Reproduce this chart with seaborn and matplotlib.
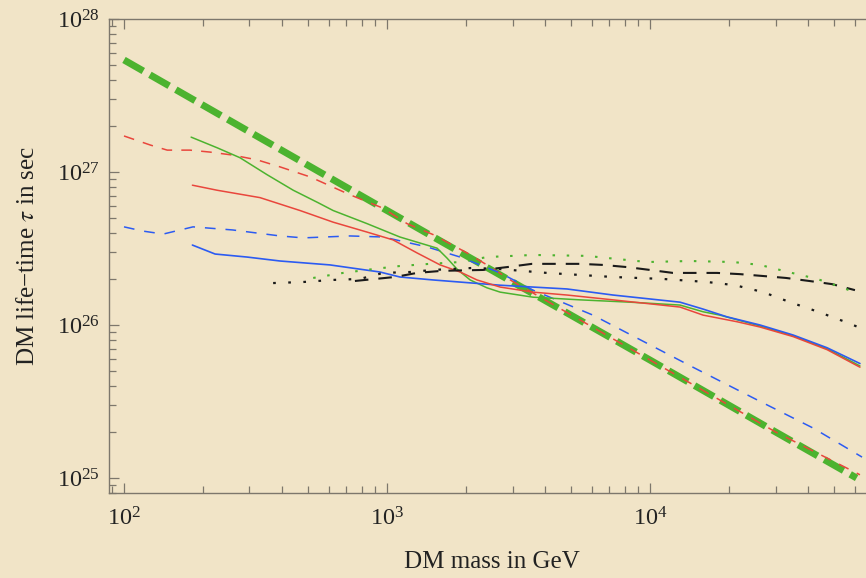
import matplotlib
matplotlib.use("Agg")
import matplotlib.pyplot as plt
import seaborn as sns
import pandas as pd
from matplotlib.ticker import LogLocator, NullFormatter, LogFormatterMathtext

# ---------------- data (mass in GeV, lifetime in s) ----------------
green_thick_m = [100, 300, 1000, 3000, 10000, 30000, 61000]
green_thick_t = [5.4e27, 1.83e27, 5.6e26, 1.91e26, 5.9e25, 2.0e25, 1.0e25]

red_dash_m = [100, 126, 146, 178, 212, 259, 321, 392, 509, 723, 966, 1191,
              1496, 2014, 2466, 3000, 10000, 30000, 62800]
red_dash_t = [1.72e27, 1.50e27, 1.39e27, 1.39e27, 1.35e27, 1.29e27, 1.20e27,
              1.08e27, 9.3e26, 7.1e26, 5.8e26, 4.6e26, 3.9e26, 2.96e26,
              2.4e26, 1.93e26, 5.9e25, 2.0e25, 1.05e25]

blue_dash_m = [100, 118, 141, 183, 259, 392, 480, 723, 966, 1419, 1897, 2692,
               3589, 6067, 14550, 25530, 41690, 63970]
blue_dash_t = [4.38e26, 4.11e26, 3.93e26, 4.38e26, 4.18e26, 3.82e26, 3.71e26,
               3.82e26, 3.76e26, 3.24e26, 2.78e26, 2.19e26, 1.69e26, 1.16e26,
               5.3e25, 3.24e25, 2.12e25, 1.37e25]

red_solid_m = [182, 226, 329, 467, 624, 839, 1054, 1300, 1592, 1897, 2198,
               2692, 3589, 4831, 7228, 13000, 15920, 21430, 26180, 34990,
               47100, 62800]
red_solid_t = [8.2e26, 7.6e26, 6.8e26, 5.6e26, 4.7e26, 4.05e26, 3.6e26,
               2.96e26, 2.47e26, 2.22e26, 1.97e26, 1.77e26, 1.64e26, 1.57e26,
               1.46e26, 1.31e26, 1.16e26, 1.05e26, 9.7e25, 8.4e25, 6.9e25,
               5.3e25]

blue_solid_m = [182, 222, 294, 392, 607, 940, 1119, 1496, 2692, 4831, 7228,
                13000, 15920, 19630, 26180, 34990, 47100, 62800]
blue_solid_t = [3.33e26, 2.91e26, 2.78e26, 2.62e26, 2.47e26, 2.22e26, 2.06e26,
                1.97e26, 1.82e26, 1.72e26, 1.57e26, 1.41e26, 1.27e26, 1.13e26,
                1.0e26, 8.6e25, 7.1e25, 5.6e25]

green_solid_m = [180, 226, 276, 350, 440, 547, 624, 839, 1119, 1549, 1690,
                 1845, 2070, 2399, 2692, 3589, 5420, 8395, 13000, 15920, 18450,
                 26180, 34990, 47100, 62800]
green_solid_t = [1.69e27, 1.44e27, 1.24e27, 9.6e26, 7.6e26, 6.3e26, 5.6e26,
                 4.6e26, 3.76e26, 3.18e26, 2.74e26, 2.32e26, 1.97e26, 1.75e26,
                 1.64e26, 1.52e26, 1.46e26, 1.41e26, 1.35e26, 1.22e26, 1.16e26,
                 9.85e25, 8.5e25, 7.0e25, 5.4e25]

black_dot_m = [369, 480, 618, 789, 966, 1222, 1496, 2123, 2692, 4055, 7228,
               11190, 16480, 21040, 26920, 34040, 43550, 55080, 61800]
black_dot_t = [1.88e26, 1.91e26, 1.97e26, 2.0e26, 2.19e26, 2.22e26, 2.29e26,
               2.36e26, 2.32e26, 2.19e26, 2.06e26, 2.0e26, 1.91e26, 1.82e26,
               1.64e26, 1.41e26, 1.22e26, 1.05e26, 9.7e25]

black_dash_m = [755, 1072, 1300, 1618, 2317, 2858, 3556, 4426, 5420, 6622,
                8185, 10000, 12220, 17990, 21980, 26920, 32890, 40270, 49200,
                60120]
black_dash_t = [1.94e26, 2.06e26, 2.19e26, 2.26e26, 2.29e26, 2.39e26, 2.51e26,
                2.51e26, 2.51e26, 2.47e26, 2.39e26, 2.29e26, 2.19e26, 2.19e26,
                2.15e26, 2.09e26, 2.03e26, 1.94e26, 1.85e26, 1.69e26]

green_dot_m = [524, 681, 885, 1119, 1455, 1897, 2399, 3589, 5754, 7499, 9750,
               14190, 20700, 26180, 33500, 43150, 54200, 61800]
green_dot_t = [2.03e26, 2.19e26, 2.32e26, 2.43e26, 2.51e26, 2.58e26, 2.78e26,
               2.87e26, 2.83e26, 2.70e26, 2.58e26, 2.62e26, 2.58e26, 2.47e26,
               2.22e26, 2.0e26, 1.75e26, 1.60e26]

x_label = "DM mass in GeV"
y_label = "DM life\u2212time $\\tau$ in sec"

# ---------------- style ----------------
sns.set_theme(style="ticks")
plt.rcParams["font.family"] = ["Liberation Serif", "DejaVu Serif"]
plt.rcParams["mathtext.fontset"] = "stix"

BG = "#F1E4C7"
AX = "#7d776c"
GREEN = "#4CB32F"
RED = "#E9463C"
BLUE = "#2C5BF2"

fig = plt.figure(figsize=(8.66, 5.78), dpi=100, facecolor=BG)
ax = fig.add_axes([109 / 866, 85 / 578, 757 / 866, 474 / 578])
ax.set_facecolor(BG)

series = [
    (green_thick_m, green_thick_t, GREEN, 5.0, (0, (3.2, 1.1))),
    (red_dash_m, red_dash_t, RED, 1.1, (0, (7, 6))),
    (blue_dash_m, blue_dash_t, BLUE, 1.1, (0, (7, 6.5))),
    (green_solid_m, green_solid_t, GREEN, 1.1, "-"),
    (blue_solid_m, blue_solid_t, BLUE, 1.2, "-"),
    (red_solid_m, red_solid_t, RED, 1.1, "-"),
    (black_dash_m, black_dash_t, "#1a1a1a", 1.5, (0, (6.5, 4.8))),
    (black_dot_m, black_dot_t, "#1a1a1a", 1.6, (0, (1.2, 5.6))),
    (green_dot_m, green_dot_t, GREEN, 1.5, (0, (1.2, 5.6))),
]

for m, t, c, lw, ls in series:
    df = pd.DataFrame({"m": m, "t": t})
    sns.lineplot(data=df, x="m", y="t", ax=ax, color=c, lw=lw,
                 linestyle=ls, sort=False, estimator=None)

ax.set_xscale("log")
ax.set_yscale("log")
ax.set_xlim(10 ** 1.943, 10 ** 4.821)
ax.set_ylim(10 ** 24.902, 1e28)

ax.xaxis.set_major_locator(LogLocator(base=10, numticks=10))
ax.xaxis.set_minor_locator(LogLocator(base=10, subs=range(2, 10), numticks=20))
ax.yaxis.set_major_locator(LogLocator(base=10, numticks=10))
ax.yaxis.set_minor_locator(LogLocator(base=10, subs=range(2, 10), numticks=20))
ax.xaxis.set_major_formatter(LogFormatterMathtext())
ax.yaxis.set_major_formatter(LogFormatterMathtext())
ax.xaxis.set_minor_formatter(NullFormatter())
ax.yaxis.set_minor_formatter(NullFormatter())

ax.tick_params(which="both", direction="in", color=AX, top=True, right=False,
               labelcolor="#222222", labelsize=17.5)
ax.tick_params(which="major", length=7, width=0.9)
ax.tick_params(which="minor", length=5, width=0.9)
ax.tick_params(axis="y", pad=6.5)
ax.tick_params(axis="x", pad=10)

for s in ["left", "bottom", "top"]:
    ax.spines[s].set_color(AX)
    ax.spines[s].set_linewidth(1.0)
ax.spines["right"].set_visible(False)

ax.set_xlabel(x_label, fontsize=18, color="#222222")
ax.set_ylabel(y_label, fontsize=18, color="#222222")
ax.xaxis.set_label_coords(0.506, -0.122)
ax.yaxis.set_label_coords(-0.093, 0.5)

fig.savefig("out.png", dpi=100, facecolor=BG)
